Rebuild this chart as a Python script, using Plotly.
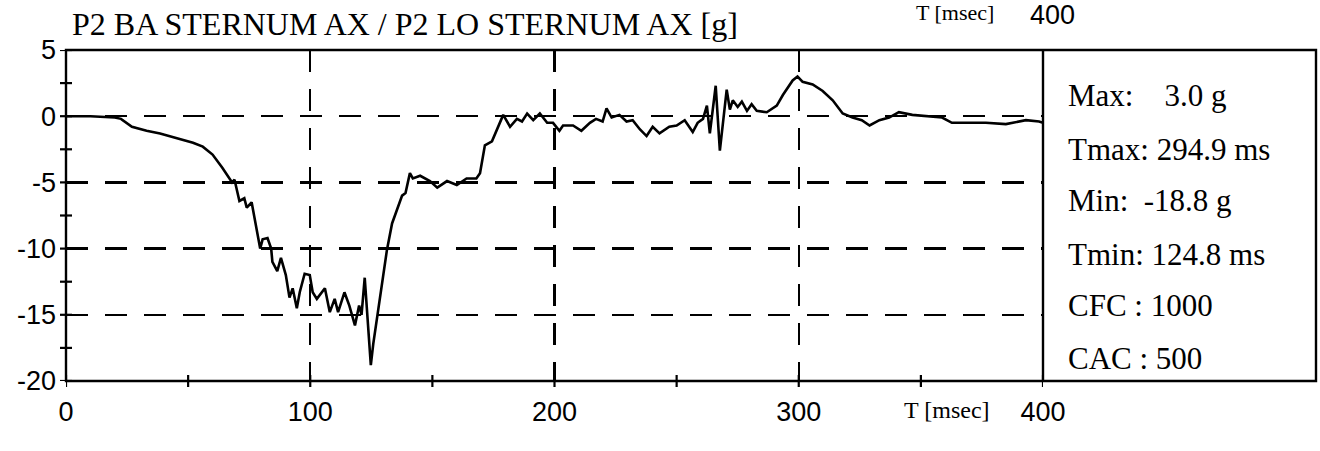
import plotly.graph_objects as go

# ---- data ----
t_ms = [0, 10, 20, 22.5, 27, 33, 38.5, 45, 52, 56, 60, 64, 68, 69, 71, 73, 74, 76, 78, 79.5,
        80.5, 82.5, 84, 84.5, 86.5, 88, 90, 91.5, 92.8, 94.5, 95.7, 97.7, 99.8, 101, 102.7, 106,
        108, 110, 111.4, 114, 116, 118.3, 120, 121, 122.3, 123.5, 124.8, 125.8, 127.3, 129.5,
        131.4, 133.5, 135.5, 137.6, 139, 140.8, 142, 145, 149, 152, 156, 160, 164, 168, 169.5,
        171.5, 174.4, 176.5, 179, 181.8, 184.6, 186.7, 188.8, 191.3, 194, 197, 199.4, 202, 203.5,
        207.6, 211, 214.5, 217, 219.7, 221.3, 223.4, 226.6, 229.5, 232, 235, 237.7, 240.2, 243,
        247, 250, 253.3, 256.6, 258.6, 260.8, 262.4, 263.6, 266, 267.7, 270.5, 271.8, 273, 275,
        276.7, 278.8, 280.7, 282.8, 286.9, 291, 293.5, 297.5, 299.5, 301.6, 305.7, 309.8, 313.9,
        318, 322, 325.8, 329, 333, 337, 341, 346.5, 353.4, 358.7, 362.7, 368.4, 376.6, 384.8,
        393, 398.4, 400]
accel_g = [0, 0, -0.1, -0.2, -0.8, -1.1, -1.3, -1.65, -2.0, -2.3, -2.9, -3.9, -5.0, -4.8, -6.4,
           -6.2, -6.9, -6.5, -8.6, -10.0, -9.3, -9.2, -10.0, -11.0, -11.7, -10.7, -12.0, -13.7,
           -13.0, -14.5, -13.3, -11.9, -12.0, -13.3, -13.8, -13.0, -14.8, -13.8, -14.8, -13.3,
           -14.3, -15.8, -14.3, -15.0, -12.2, -15.2, -18.8, -17.2, -15.3, -12.5, -10.1, -8.1,
           -7.1, -6.0, -5.8, -4.3, -4.7, -4.5, -4.9, -5.4, -4.9, -5.2, -4.7, -4.7, -4.3, -2.2,
           -1.9, -1.0, 0.1, -0.8, -0.2, -0.4, 0.2, -0.3, 0.2, -0.5, -0.5, -1.1, -0.7, -0.7, -1.1,
           -0.5, -0.2, -0.4, 0.6, -0.1, 0.1, -0.4, -0.3, -1.0, -1.5, -0.8, -1.3, -0.8, -0.7, -0.3,
           -1.2, -0.5, -0.2, 0.8, -1.3, 2.3, -2.6, 2.0, 0.5, 1.2, 0.7, 1.1, 0.4, 0.9, 0.4, 0.3,
           0.8, 1.6, 2.7, 3.0, 2.6, 2.4, 1.9, 1.2, 0.2, -0.1, -0.3, -0.7, -0.3, -0.1, 0.3, 0.1,
           0.0, -0.1, -0.5, -0.5, -0.5, -0.6, -0.3, -0.4, -0.5]

x_tick_vals = [0, 100, 200, 300, 400]
x_tick_text = ["0", "100", "200", "300", "400"]
x_minor_vals = [0, 50, 100, 150, 200, 250, 300, 350, 400]
y_tick_vals = [5, 0, -5, -10, -15, -20]
y_tick_text = ["5", "0", "-5", "-10", "-15", "-20"]
y_minor_vals = [5, 2.5, 0, -2.5, -5, -7.5, -10, -12.5, -15, -17.5, -20]

title_text = "P2 BA STERNUM AX / P2 LO STERNUM AX [g]"
x_label = "T [msec]"
panel_lines = ["Max:\u00a0\u00a0\u00a0\u00a03.0 g", "Tmax: 294.9 ms", "Min:\u00a0\u00a0-18.8 g",
               "Tmin: 124.8 ms", "CFC : 1000", "CAC : 500"]

# ---- layout geometry (pixels) ----
W, H = 1320, 451
L, R, T, B = 66, 277, 50, 70
PW, PH = W - L - R, H - T - B
def px_x(p):
    return (p - L) / PW
def px_y(p):
    return (H - B - p) / PH

SERIF = "Liberation Serif, Times New Roman, serif"
SANS = "Liberation Sans, Arial, sans-serif"

fig = go.Figure()
fig.add_trace(go.Scatter(x=t_ms, y=accel_g, mode="lines",
                         line=dict(color="black", width=2.6), hoverinfo="skip"))

shapes = []
# frame (plot + info panel)
shapes.append(dict(type="rect", xref="paper", yref="paper", x0=0, x1=px_x(1316), y0=0, y1=1,
                   line=dict(color="black", width=2.4), layer="above"))
shapes.append(dict(type="line", xref="paper", yref="paper", x0=1, x1=1, y0=0, y1=1,
                   line=dict(color="black", width=2.4), layer="above"))
tk_x = 6 / PH
for v in x_minor_vals:
    shapes.append(dict(type="line", xref="x", yref="paper", x0=v, x1=v, y0=-tk_x, y1=tk_x,
                       line=dict(color="black", width=2.2)))
tk_y = 6 / PW
for v in y_minor_vals:
    shapes.append(dict(type="line", xref="paper", yref="y", x0=-tk_y, x1=tk_y, y0=v, y1=v,
                       line=dict(color="black", width=2.2)))

annotations = []
annotations.append(dict(text=title_text, xref="paper", yref="paper", x=px_x(70), y=px_y(24),
                        xanchor="left", yanchor="middle", showarrow=False,
                        font=dict(family=SERIF, size=32, color="black")))
annotations.append(dict(text=x_label, xref="paper", yref="paper", x=px_x(947), y=px_y(410),
                        xanchor="center", yanchor="middle", showarrow=False,
                        font=dict(family=SERIF, size=24, color="black")))
# remnant of the chart above (kept fully visible)
annotations.append(dict(text=x_label, xref="paper", yref="paper", x=px_x(955), y=px_y(12),
                        xanchor="center", yanchor="middle", showarrow=False,
                        font=dict(family=SERIF, size=22, color="black")))
annotations.append(dict(text="400", xref="paper", yref="paper", x=px_x(1052), y=px_y(15),
                        xanchor="center", yanchor="middle", showarrow=False,
                        font=dict(family=SANS, size=27, color="black")))
panel_y = [95, 149, 200, 254, 305, 358]
for txt, py in zip(panel_lines, panel_y):
    annotations.append(dict(text=txt, xref="paper", yref="paper", x=px_x(1066), y=px_y(py),
                            xanchor="left", yanchor="middle", showarrow=False,
                            font=dict(family=SERIF, size=31, color="black")))

fig.update_layout(
    width=W, height=H,
    margin=dict(l=L, r=R, t=T, b=B, pad=0, autoexpand=False),
    paper_bgcolor="white", plot_bgcolor="white",
    showlegend=False,
    shapes=shapes, annotations=annotations,
    xaxis=dict(range=[0, 400], tickvals=x_tick_vals, ticktext=x_tick_text, automargin=False,
               ticks="", ticklabelstandoff=12, showline=False, zeroline=False,
               showgrid=True, gridcolor="black", gridwidth=2.4, griddash="22px,17px",
               tickfont=dict(family=SANS, size=27, color="black"), fixedrange=True),
    yaxis=dict(range=[-20, 5], tickvals=y_tick_vals, ticktext=y_tick_text, automargin=False,
               ticks="", ticklabelstandoff=9, showline=False, zeroline=False,
               showgrid=True, gridcolor="black", gridwidth=2.4, griddash="22px,17px",
               tickfont=dict(family=SANS, size=27, color="black"), fixedrange=True),
)

fig.write_html("out.html",
               config={"displayModeBar": False, "staticPlot": True},
               post_script="document.body.style.margin='0';document.body.style.padding='0';"
                           "document.body.style.overflow='hidden';")
